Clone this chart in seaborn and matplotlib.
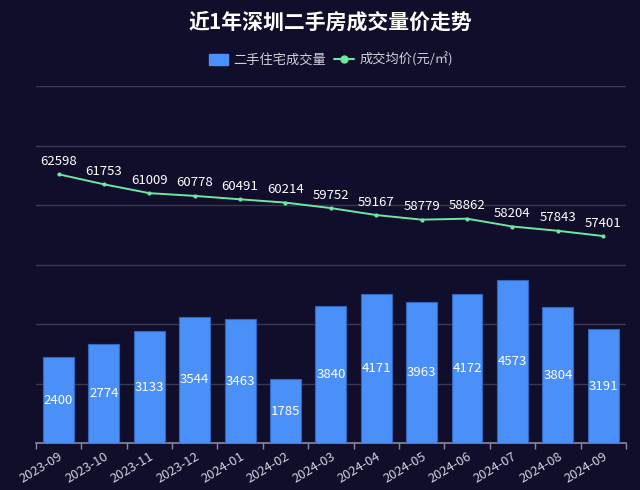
import matplotlib
matplotlib.use("Agg")
import matplotlib.pyplot as plt
import seaborn as sns
import pandas as pd
from matplotlib.patches import Patch
from matplotlib.lines import Line2D

# data
months = ["2023-09", "2023-10", "2023-11", "2023-12", "2024-01", "2024-02", "2024-03",
          "2024-04", "2024-05", "2024-06", "2024-07", "2024-08", "2024-09"]
volume = [2400, 2774, 3133, 3544, 3463, 1785, 3840, 4171, 3963, 4172, 4573, 3804, 3191]
price = [62598, 61753, 61009, 60778, 60491, 60214, 59752, 59167, 58779, 58862, 58204, 57843, 57401]

df = pd.DataFrame({"month": months, "volume": volume, "price": price})

bg = "#110e2b"
bar_color = "#4a90f8"
line_color = "#6ee7a0"
text_color = "#d0d0dc"

sns.set_theme(style="dark")
plt.rcParams["font.family"] = ["Noto Sans CJK SC", "DejaVu Sans"]

fig = plt.figure(figsize=(6.4, 4.9), dpi=100, facecolor=bg)
ax = fig.add_axes([0.056, 0.096, 0.922, 0.728])
ax.set_facecolor(bg)

sns.barplot(data=df, x="month", y="volume", color=bar_color, width=0.68,
            edgecolor="#2f66c0", linewidth=0.8, saturation=1, ax=ax, zorder=3)
ax.set_ylim(0, 10000)
ax.set_xlim(-0.5, len(months) - 0.5)

# horizontal grid lines (6 intervals)
for i in range(1, 7):
    ax.axhline(10000 * i / 6, color="#3a3852", lw=1, zorder=1)

for i, v in enumerate(volume):
    ax.text(i, v / 2, str(v), ha="center", va="center", color="white", fontsize=9.5, zorder=5)

ax2 = ax.twinx()
sns.lineplot(data=df, x="month", y="price", color=line_color, lw=1.4, marker="o",
             markersize=3, markeredgewidth=0, ax=ax2, zorder=4)
ax2.set_ylim(40000, 70000)
for i, v in enumerate(price):
    ax2.text(i, v + 550, str(v), ha="center", va="bottom", color="white", fontsize=9.5)

for a in (ax, ax2):
    a.set_xlabel("")
    a.set_ylabel("")
    a.set_yticks([])
    for s in a.spines.values():
        s.set_visible(False)
ax.spines["bottom"].set_visible(True)
ax.spines["bottom"].set_color("#8a8a9a")
ax.spines["bottom"].set_linewidth(1.2)

ax.set_xticks(range(len(months)))
ax.set_xticks([i - 0.5 for i in range(len(months) + 1)], minor=True)
ax.set_xticklabels(months, rotation=31, ha="right", rotation_mode="anchor",
                   color=text_color, fontsize=9.3)
ax.tick_params(axis="x", which="major", length=0, pad=5)
ax.tick_params(axis="x", which="minor", length=4, color="#8a8a9a", width=1, bottom=True)
ax.grid(False)
ax2.grid(False)

# title and legend are centred on the plot area
cx = 0.056 + 0.922 / 2
fig.text(cx, 0.955, "近1年深圳二手房成交量价走势", ha="center", va="center",
         color="white", fontsize=15, fontweight="bold")

handles = [
    Patch(facecolor=bar_color, edgecolor=bar_color, label="二手住宅成交量"),
    Line2D([0], [0], color=line_color, lw=1.5, marker="o", markersize=5,
           label="成交均价(元/㎡)"),
]
leg = fig.legend(handles=handles, loc="center", bbox_to_anchor=(cx, 0.878), ncol=2,
                 frameon=False, fontsize=9.5, handlelength=1.5, handleheight=0.9,
                 columnspacing=0.6, handletextpad=0.4)
for t in leg.get_texts():
    t.set_color(text_color)

fig.savefig("out.png", dpi=100, facecolor=bg)
